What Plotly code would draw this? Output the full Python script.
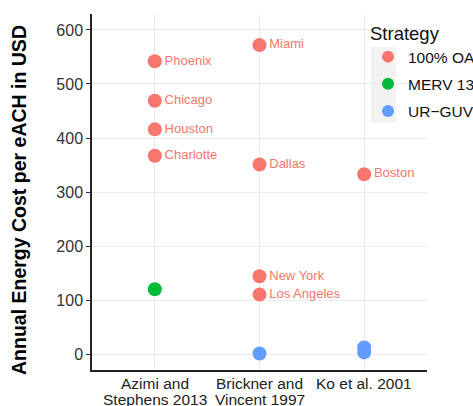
import plotly.graph_objects as go

categories = ["Azimi and Stephens 2013", "Brickner and Vincent 1997", "Ko et al. 2001"]
tick_line1 = ["Azimi and", "Brickner and", "Ko et al. 2001"]
tick_line2 = ["Stephens 2013", "Vincent 1997", ""]

oa_study = [0, 0, 0, 0, 1, 1, 1, 1, 2]
oa_city = ["Phoenix", "Chicago", "Houston", "Charlotte", "Miami", "Dallas", "New York", "Los Angeles", "Boston"]
oa_cost = [542, 469, 416, 367, 572, 351, 144, 110, 333]

merv_study = [0]
merv_cost = [120]

uv_study = [1, 2, 2]
uv_cost = [1, 12, 3]

yticks = [0, 100, 200, 300, 400, 500, 600]

red, green, blue = "#F8766D", "#00BA38", "#619CFF"
FONT = "Liberation Sans, Arial, sans-serif"

fig = go.Figure()
fig.add_trace(go.Scatter(
    x=[categories[i] for i in oa_study], y=oa_cost, mode="markers+text",
    text=oa_city, textposition="middle right",
    textfont=dict(color=red, size=13, family=FONT),
    marker=dict(color=red, size=14), name="100% OA", legendgroup="a"))
fig.add_trace(go.Scatter(
    x=[categories[i] for i in merv_study], y=merv_cost, mode="markers",
    marker=dict(color=green, size=14), name="MERV 13", legendgroup="b"))
fig.add_trace(go.Scatter(
    x=[categories[i] for i in uv_study], y=uv_cost, mode="markers",
    marker=dict(color=blue, size=14), name="UR\u2212GUV", legendgroup="c"))

L, R, T, B = 92, 46, 14, 36
PW, PH = 473 - L - R, 406 - T - B

fig.add_shape(type="rect", xref="paper", yref="paper",
              x0=(371 - L) / PW, x1=(396 - L) / PW,
              y0=1 - (123 - T) / PH, y1=1 - (47 - T) / PH,
              fillcolor="#F2F2F2", line=dict(width=0), layer="below")

fig.add_annotation(text="<b>Annual Energy Cost per eACH in USD</b>",
                   xref="paper", yref="paper", x=(19 - L) / PW, y=1 - (200 - T) / PH,
                   xanchor="center", yanchor="middle", textangle=-90, showarrow=False,
                   font=dict(size=19.5, color="black", family=FONT))

# x category labels (two tight lines)
for cat, l1, l2 in zip(categories, tick_line1, tick_line2):
    fig.add_annotation(text=l1, xref="x", yref="paper", x=cat, y=1 - (383 - T) / PH,
                       xanchor="center", yanchor="middle", showarrow=False,
                       font=dict(size=15.5, color="#222222", family=FONT))
    if l2:
        fig.add_annotation(text=l2, xref="x", yref="paper", x=cat, y=1 - (399 - T) / PH,
                           xanchor="center", yanchor="middle", showarrow=False,
                           font=dict(size=15.5, color="#222222", family=FONT))

fig.update_layout(
    width=473, height=406,
    margin=dict(l=L, r=R, t=T, b=B, autoexpand=False),
    paper_bgcolor="white", plot_bgcolor="white",
    font=dict(family=FONT, color="#222222"),
    showlegend=True,
    legend=dict(
        x=(368 - L) / PW, y=1 - (16 - T) / PH, xanchor="left", yanchor="top",
        bgcolor="rgba(0,0,0,0)",
        title=dict(text="Strategy", font=dict(size=18.5, color="#111111")),
        font=dict(size=15.5, color="#111111"),
        itemsizing="constant", tracegroupgap=4,
    ),
    xaxis=dict(
        type="category", categoryorder="array", categoryarray=categories,
        range=[-0.6, 2.6], automargin=False, showticklabels=False,
        showgrid=True, gridcolor="#EBEBEB", gridwidth=1,
        showline=True, linecolor="#222222", linewidth=1.5,
        ticks="", zeroline=False,
    ),
    yaxis=dict(
        range=[-29.6, 629.6], tickvals=yticks, automargin=False,
        showgrid=True, gridcolor="#EBEBEB", gridwidth=1,
        showline=True, linecolor="#222222", linewidth=1.5,
        ticks="outside", ticklen=4, tickcolor="#333333",
        tickfont=dict(size=16, color="#333333"),
        zeroline=False,
    ),
)

fig.write_html("out.html", config={"displayModeBar": False},
               post_script="document.body.style.margin='0';document.body.style.overflow='hidden';")
